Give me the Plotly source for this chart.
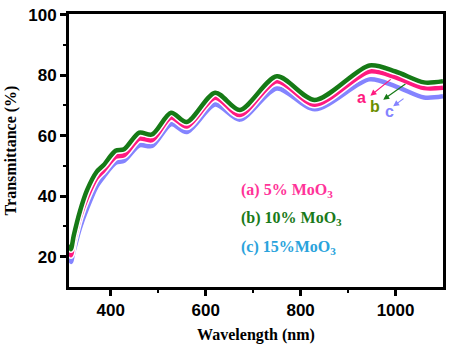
import plotly.graph_objects as go

wavelength = [312, 316, 322, 335, 350, 370, 385, 410, 428, 460, 487, 527, 560, 620, 672, 750, 830, 945, 1000, 1060, 1100]
t_5 = [22.0, 20.5, 25.0, 33.0, 39.5, 46.0, 48.5, 53.0, 53.5, 59.0, 58.5, 66.0, 63.0, 72.5, 66.8, 78.0, 70.2, 81.2, 79.3, 75.7, 75.8]
t_10 = [24.0, 22.5, 27.0, 35.0, 42.0, 48.0, 50.3, 55.0, 55.5, 61.0, 60.4, 67.6, 64.5, 74.2, 68.5, 79.6, 71.8, 83.2, 81.2, 77.6, 78.0]
t_15 = [25.0, 18.3, 22.0, 29.5, 36.0, 43.2, 46.5, 51.0, 51.7, 56.8, 56.6, 63.8, 61.2, 70.3, 65.3, 75.6, 68.7, 78.6, 76.3, 72.6, 73.0]

x_ticks = [400, 600, 800, 1000]
y_ticks = [20, 40, 60, 80, 100]

c_pink = "#ff1a7f"
c_green = "#167a16"
c_blue = "#8484ff"

fig = go.Figure()
for vals, col in [(t_15, c_blue), (t_5, c_pink), (t_10, c_green)]:
    fig.add_trace(go.Scatter(x=wavelength, y=vals, mode="lines",
                             line=dict(color="white", width=7.5, shape="spline", smoothing=0.8),
                             hoverinfo="skip", showlegend=False))
    fig.add_trace(go.Scatter(x=wavelength, y=vals, mode="lines",
                             line=dict(color=col, width=4.5, shape="spline", smoothing=0.8),
                             showlegend=False))

tickfont = dict(family="Liberation Sans, Arial", size=17, color="black", weight="bold")
titlefont = dict(family="Liberation Serif, Times New Roman", size=16, color="black", weight="bold")

fig.update_xaxes(range=[312, 1100], tickvals=x_ticks, ticks="outside", ticklen=6, tickwidth=2.5,
                 tickcolor="black", tickfont=tickfont, showgrid=False, zeroline=False,
                 showline=True, linecolor="black", linewidth=3, mirror=True,
                 minor=dict(tickvals=[500, 700, 900], ticks="outside", ticklen=3, tickwidth=2, tickcolor="black"),
                 title=dict(text="Wavelength (nm)", font=titlefont, standoff=10))
fig.update_yaxes(range=[10, 100.2], tickvals=y_ticks, ticks="outside", ticklen=6, tickwidth=2.5,
                 tickcolor="black", tickfont=tickfont, showgrid=False, zeroline=False,
                 showline=True, linecolor="black", linewidth=3, mirror=True,
                 minor=dict(tickvals=[30, 50, 70, 90], ticks="outside", ticklen=3, tickwidth=2, tickcolor="black"),
                 title=dict(text="Transmittance (%)", font=titlefont, standoff=8))

legend_items = [("(a) 5% MoO<sub>3</sub>", "#ff3399", 41.9),
                ("(b) 10% MoO<sub>3</sub>", "#1a7a1a", 32.6),
                ("(c) 15%MoO<sub>3</sub>", "#2aa3dc", 22.9)]
for txt, col, yv in legend_items:
    fig.add_annotation(x=670, y=yv, xref="x", yref="y", text=txt,
                       showarrow=False, xanchor="left", yanchor="middle",
                       font=dict(family="Liberation Serif, Times New Roman", size=16, color=col, weight="bold"))

arrows = [("a", c_pink, c_pink, 993, 79.0, 947, 73.2, 928, 72.6),
          ("b", "#6b8e00", c_green, 1024, 77.4, 974, 71.9, 957, 69.7),
          ("c", c_blue, c_blue, 1020, 72.6, 995, 69.7, 987, 68.0)]
for lab, col, acol, x0, y0, x1, y1, tx, ty in arrows:
    fig.add_annotation(x=x1, y=y1, ax=x0, ay=y0, xref="x", yref="y", axref="x", ayref="y",
                       text="", showarrow=True, arrowhead=2, arrowsize=1, arrowwidth=1.2,
                       arrowcolor=acol)
    fig.add_annotation(x=tx, y=ty, xref="x", yref="y", text=lab, showarrow=False,
                       font=dict(family="Liberation Sans, Arial", size=16, color=col, weight="bold"))

fig.update_layout(width=452, height=348, margin=dict(l=69, r=6, t=8, b=61),
                  plot_bgcolor="white", paper_bgcolor="white")

fig.write_html("out.html")
